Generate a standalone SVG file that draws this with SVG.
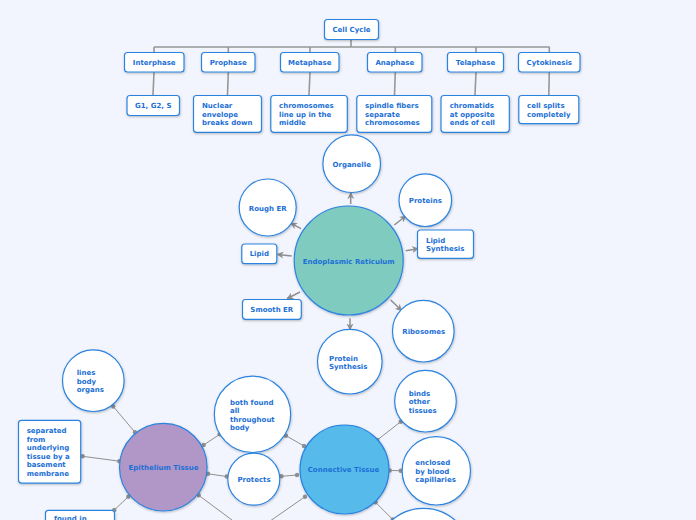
<svg xmlns="http://www.w3.org/2000/svg" width="696" height="520" viewBox="0 0 696 520">
<style>
.bx{fill:#fff;stroke:#2c83df;stroke-width:1.2;filter:url(#sh)}
.t{font-family:"DejaVu Sans",Verdana,sans-serif;font-weight:bold;font-size:7px;fill:#1c6fd6}
.c{text-anchor:middle}
.tree{stroke:#979797;stroke-width:1.6;fill:none}
.ar{stroke:#8e8e8e;stroke-width:1.5;fill:none;marker-end:url(#ah)}
.ln{stroke:#8f8f8f;stroke-width:1;fill:none;marker-start:url(#dot);marker-end:url(#dot)}
</style>
<defs>
<filter id="sh" x="-20%" y="-20%" width="140%" height="140%">
<feDropShadow dx="0.5" dy="1" stdDeviation="0.8" flood-color="#000" flood-opacity="0.25"/>
</filter>
<marker id="ah" markerUnits="userSpaceOnUse" markerWidth="8" markerHeight="8" refX="6" refY="4" orient="auto">
<path d="M0,0.5 L7,4 L0,7.5 L2,4 Z" fill="#8e8e8e"/>
</marker>
<marker id="dot" markerUnits="userSpaceOnUse" markerWidth="6" markerHeight="6" refX="3" refY="3">
<circle cx="3" cy="3" r="2.2" fill="#8f8f8f"/>
</marker>
</defs>
<rect width="696" height="520" fill="#f2f5fd"/>

<g id="connectors">
<path class="tree" d="M351,39 V47 M154,47 H549.5 M154,47 V52 M228.3,47 V52 M310,47 V52 M395.3,47 V52 M476,47 V52 M549.3,47 V52"/>
<path class="tree" d="M154,72 L153,95 M228.3,72 L227.5,95 M310,72 L309,95 M395.3,72 L394.5,95 M476,72 L475,95 M549.3,72 L548.8,95"/>
<line class="ar" x1="350.7" y1="204" x2="350.7" y2="193"/>
<line class="ar" x1="301" y1="228.7" x2="291" y2="223.3"/>
<line class="ar" x1="291.7" y1="256" x2="277.5" y2="254.4"/>
<line class="ar" x1="300" y1="292" x2="287.3" y2="298.5"/>
<line class="ar" x1="394.3" y1="225" x2="405.7" y2="216"/>
<line class="ar" x1="405.7" y1="250.7" x2="418" y2="248.7"/>
<line class="ar" x1="390.7" y1="300" x2="401.5" y2="310.5"/>
<line class="ar" x1="350" y1="318.3" x2="350" y2="329.5"/>
<line class="ln" x1="113.3" y1="406.5" x2="135" y2="432.3"/>
<line class="ln" x1="82.7" y1="456.3" x2="119.3" y2="461.2"/>
<line class="ln" x1="203.7" y1="445" x2="219.7" y2="434.3"/>
<line class="ln" x1="208" y1="473.8" x2="226.7" y2="476.5"/>
<line class="ln" x1="281.5" y1="476.3" x2="297" y2="475"/>
<line class="ln" x1="286" y1="435.7" x2="304" y2="446"/>
<line class="ln" x1="114.3" y1="510" x2="128.3" y2="496.7"/>
<line class="ln" x1="198.7" y1="495.3" x2="240" y2="526"/>
<line class="ln" x1="305" y1="496.7" x2="263" y2="526"/>
<line class="ln" x1="377.3" y1="440" x2="400.7" y2="421.7"/>
<line class="ln" x1="389.7" y1="470.5" x2="400.7" y2="470.7"/>
<line class="ln" x1="375.5" y1="502.3" x2="392.7" y2="519.5"/>
</g>

<g id="cell-cycle"><rect class="bx" x="324.5" y="19.5" width="54" height="20" rx="3"/><text class="t c" x="351.5" y="31.8">Cell Cycle</text></g>

<g id="interphase"><rect class="bx" x="124.5" y="52.5" width="59.5" height="19.5" rx="3"/><text class="t c" x="154.2" y="64.8">Interphase</text></g>
<g id="prophase"><rect class="bx" x="201.5" y="52.5" width="53.5" height="19.5" rx="3"/><text class="t c" x="228.2" y="64.8">Prophase</text></g>
<g id="metaphase"><rect class="bx" x="280.5" y="52.5" width="58.5" height="19.5" rx="3"/><text class="t c" x="309.7" y="64.8">Metaphase</text></g>
<g id="anaphase"><rect class="bx" x="367.5" y="52.5" width="54.5" height="19.5" rx="3"/><text class="t c" x="394.8" y="64.8">Anaphase</text></g>
<g id="telaphase"><rect class="bx" x="447.5" y="52.5" width="56" height="19.5" rx="3"/><text class="t c" x="475.5" y="64.8">Telaphase</text></g>
<g id="cytokinesis"><rect class="bx" x="518.5" y="52.5" width="61.5" height="19.5" rx="3"/><text class="t c" x="549.3" y="64.8">Cytokinesis</text></g>

<g id="g1g2s"><rect class="bx" x="127" y="95.5" width="52.5" height="20" rx="3"/><text class="t c" x="153.2" y="107.8">G1, G2, S</text></g>
<g id="nuclear"><rect class="bx" x="193.5" y="95.5" width="68" height="36.8" rx="3"/><text class="t" x="202" y="107.8">Nuclear</text><text class="t" x="202" y="116.5">envelope</text><text class="t" x="202" y="125">breaks down</text></g>
<g id="chromosomes"><rect class="bx" x="270.8" y="95.5" width="76.5" height="36.8" rx="3"/><text class="t" x="279" y="107.8">chromosomes</text><text class="t" x="279" y="116.5">line up in the</text><text class="t" x="279" y="125">middle</text></g>
<g id="spindle"><rect class="bx" x="356.8" y="95.5" width="75" height="36.8" rx="3"/><text class="t" x="365" y="107.8">spindle fibers</text><text class="t" x="365" y="116.5">separate</text><text class="t" x="365" y="125">chromosomes</text></g>
<g id="chromatids"><rect class="bx" x="441" y="95.5" width="68.3" height="36.8" rx="3"/><text class="t" x="449.7" y="107.8">chromatids</text><text class="t" x="449.7" y="116.5">at opposite</text><text class="t" x="449.7" y="125">ends of cell</text></g>
<g id="cellsplits"><rect class="bx" x="518.8" y="95.5" width="60" height="28.2" rx="3"/><text class="t" x="527" y="107.8">cell splits</text><text class="t" x="527" y="116.8">completely</text></g>

<g id="er"><circle cx="348.7" cy="260.5" r="54.5" fill="#7fcbc0" stroke="#2c83df" stroke-width="1.2" filter="url(#sh)"/><text class="t c" x="348.7" y="264.2">Endoplasmic Reticulum</text></g>
<g id="organelle"><circle class="bx" cx="351.7" cy="163.7" r="28.8"/><text class="t c" x="351.7" y="167.2">Organelle</text></g>
<g id="rough-er"><circle class="bx" cx="267.7" cy="207.5" r="28.5"/><text class="t c" x="267.7" y="211.2">Rough ER</text></g>
<g id="proteins"><circle class="bx" cx="425.3" cy="200.2" r="26.3"/><text class="t c" x="425.3" y="203.2">Proteins</text></g>
<g id="lipid-synthesis"><rect class="bx" x="417.5" y="230" width="56" height="28.3" rx="3"/><text class="t" x="426" y="243.2">Lipid</text><text class="t" x="426" y="251.2">Synthesis</text></g>
<g id="lipid"><rect class="bx" x="241.8" y="244" width="35" height="19.7" rx="3"/><text class="t c" x="259.3" y="256.2">Lipid</text></g>
<g id="smooth-er"><rect class="bx" x="242.5" y="299.5" width="58.8" height="19.8" rx="3"/><text class="t c" x="271.8" y="312.2">Smooth ER</text></g>
<g id="ribosomes"><circle class="bx" cx="423.3" cy="331.2" r="30.8"/><text class="t c" x="423.7" y="334.2">Ribosomes</text></g>
<g id="protein-synthesis"><circle class="bx" cx="349.8" cy="361.7" r="32.3"/><text class="t" x="329" y="360.8">Protein</text><text class="t" x="329" y="369.2">Synthesis</text></g>

<g id="lines-body"><circle class="bx" cx="93.3" cy="380.7" r="30.8"/><text class="t" x="76.7" y="375.2">lines</text><text class="t" x="76.7" y="383.8">body</text><text class="t" x="76.7" y="392.2">organs</text></g>
<g id="separated"><rect class="bx" x="18.5" y="420.3" width="62.2" height="62.8" rx="3"/><text class="t" x="26.7" y="433.2">separated</text><text class="t" x="26.7" y="441.8">from</text><text class="t" x="26.7" y="450.2">underlying</text><text class="t" x="26.7" y="458.8">tissue by a</text><text class="t" x="26.7" y="467.2">basement</text><text class="t" x="26.7" y="475.8">membrane</text></g>
<g id="epithelium"><circle cx="163.3" cy="467.2" r="43.8" fill="#b097c7" stroke="#2c83df" stroke-width="1.2" filter="url(#sh)"/><text class="t c" x="163.5" y="470.2">Epithelium Tissue</text></g>
<g id="both-found"><circle class="bx" cx="252.5" cy="414.3" r="38.2"/><text class="t" x="230" y="404.8">both found</text><text class="t" x="230" y="413.2">all</text><text class="t" x="230" y="421.8">throughout</text><text class="t" x="230" y="430.2">body</text></g>
<g id="protects"><circle class="bx" cx="253.8" cy="479.2" r="26"/><text class="t c" x="254" y="482.2">Protects</text></g>
<g id="found-in"><rect class="bx" x="45.5" y="510.3" width="69" height="40" rx="3"/><text class="t" x="54" y="521">found in</text></g>
<g id="connective"><circle cx="344.5" cy="469.5" r="44.5" fill="#56bbeb" stroke="#2c83df" stroke-width="1.2" filter="url(#sh)"/><text class="t c" x="343.5" y="471.8">Connective Tissue</text></g>
<g id="binds"><circle class="bx" cx="425.5" cy="401.2" r="30.8"/><text class="t" x="408.7" y="395.8">binds</text><text class="t" x="408.7" y="404.2">other</text><text class="t" x="408.7" y="412.8">tissues</text></g>
<g id="enclosed"><circle class="bx" cx="436.3" cy="470.8" r="34.2"/><text class="t" x="415.3" y="464.8">enclosed</text><text class="t" x="415.3" y="473.5">by blood</text><text class="t" x="415.3" y="481.8">capillaries</text></g>
<g id="bottom-node"><circle class="bx" cx="423.5" cy="556" r="47.7"/></g>
</svg>
